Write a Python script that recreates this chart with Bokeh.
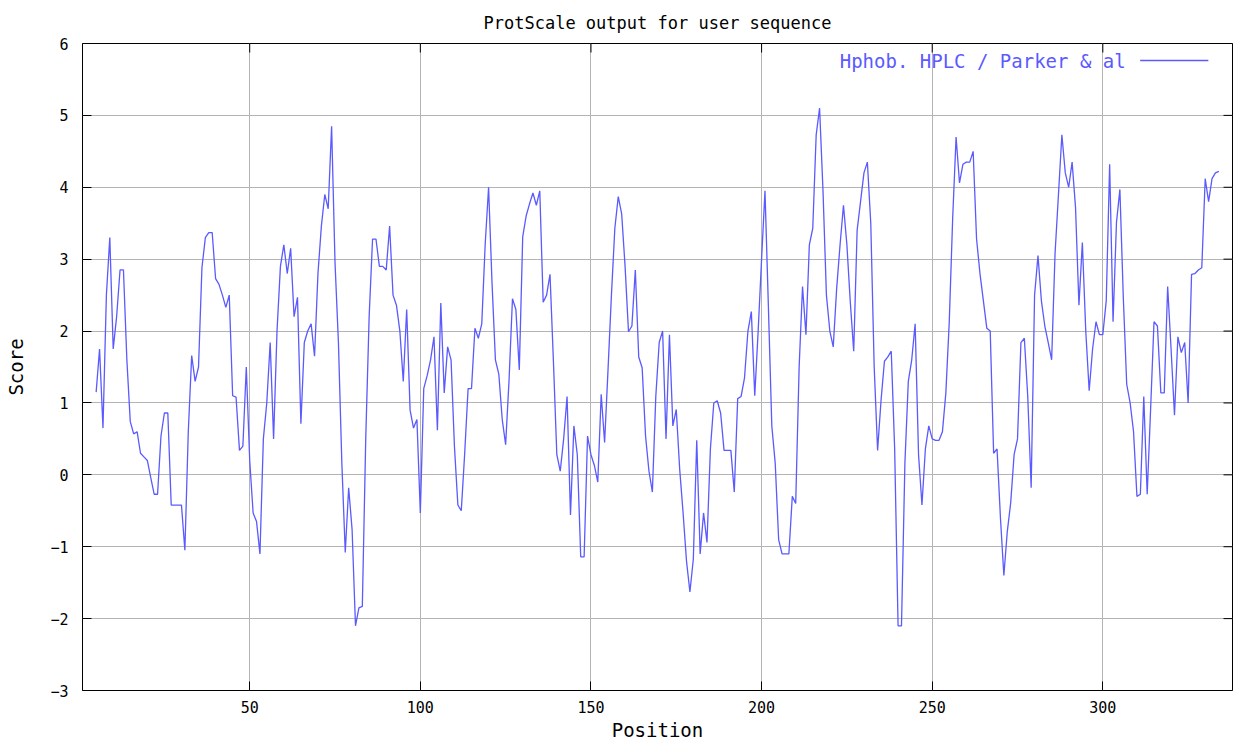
import math
from bokeh.plotting import figure
from bokeh.models import Range1d, FixedTicker, Label
from bokeh.embed import file_html
from bokeh.resources import INLINE

# ---------------- data ----------------
first_position = 5
scores = [
    # 5-30
    1.15, 1.75, 0.65, 2.5, 3.3, 1.75, 2.2, 2.85, 2.85, 1.6,
    0.74, 0.57, 0.6, 0.3, 0.25, 0.2, -0.04, -0.27, -0.27, 0.54,
    0.86, 0.86, -0.42, -0.42, -0.42, -0.42,
    # 31-56
    -1.05, 0.6, 1.66, 1.3, 1.5, 2.88, 3.3, 3.37, 3.37, 2.73,
    2.65, 2.5, 2.33, 2.5, 1.1, 1.08, 0.34, 0.4, 1.5, 0.2,
    -0.53, -0.65, -1.1, 0.5, 1.0, 1.84,
    # 57-84
    0.5, 2.0, 2.9, 3.2, 2.8, 3.15, 2.2, 2.47, 0.71, 1.84,
    2.0, 2.1, 1.65, 2.8, 3.46, 3.9, 3.7, 4.85, 2.95, 1.84,
    0.16, -1.08, -0.18, -0.76, -2.1, -1.85, -1.83, 0.5,
    # 85-112
    2.2, 3.28, 3.28, 2.9, 2.9, 2.85, 3.46, 2.5, 2.36, 2.0,
    1.3, 2.3, 0.9, 0.65, 0.77, -0.53, 1.2, 1.38, 1.6, 1.92,
    0.62, 2.39, 1.14, 1.78, 1.6, 0.39, -0.42, -0.5,
    # 113-141
    0.3, 1.2, 1.2, 2.04, 1.9, 2.1, 3.2, 4.0, 2.68, 1.6,
    1.4, 0.77, 0.42, 1.32, 2.45, 2.3, 1.46, 3.31, 3.6, 3.77,
    3.92, 3.75, 3.95, 2.4, 2.5, 2.79, 1.58, 0.28, 0.05,
    # 142-168
    0.5, 1.09, -0.56, 0.68, 0.28, -1.14, -1.14, 0.54, 0.28, 0.13,
    -0.1, 1.12, 0.45, 1.46, 2.5, 3.43, 3.87, 3.63, 2.9, 1.99,
    2.07, 2.85, 1.64, 1.49, 0.54, 0.05, -0.24,
    # 169-198
    1.09, 1.84, 2.0, 0.5, 1.95, 0.68, 0.91, 0.08, -0.53, -1.2,
    -1.63, -1.17, 0.48, -1.1, -0.53, -0.94, 0.36, 1.0, 1.03, 0.86,
    0.34, 0.34, 0.34, -0.24, 1.06, 1.09, 1.35, 2.0, 2.27, 1.1,
    # 199-225
    2.0, 3.0, 3.95, 2.33, 0.68, 0.16, -0.9, -1.1, -1.1, -1.1,
    -0.3, -0.4, 1.49, 2.62, 1.95, 3.2, 3.43, 4.73, 5.1, 3.95,
    2.5, 2.0, 1.78, 2.59, 3.2, 3.75, 3.2,
    # 226-253
    2.4, 1.72, 3.4, 3.8, 4.2, 4.35, 3.5, 1.5, 0.34, 1.03,
    1.58, 1.64, 1.72, 0.36, -2.1, -2.1, 0.16, 1.3, 1.6, 2.1,
    0.28, -0.42, 0.36, 0.68, 0.5, 0.48, 0.48, 0.6,
    # 254-282
    1.14, 2.13, 3.57, 4.7, 4.06, 4.32, 4.35, 4.35, 4.5, 3.28,
    2.8, 2.42, 2.04, 2.0, 0.3, 0.36, -0.6, -1.4, -0.79, -0.39,
    0.28, 0.5, 1.84, 1.9, 1.09, -0.18, 2.5, 3.05, 2.42,
    # 283-309
    2.07, 1.84, 1.6, 3.08, 3.9, 4.73, 4.2, 4.0, 4.35, 3.72,
    2.36, 3.23, 2.0, 1.17, 1.75, 2.13, 1.95, 1.95, 2.42, 4.32,
    2.13, 3.51, 3.97, 2.47, 1.26, 1.0, 0.6,
    # 310-334
    -0.3, -0.27, 1.09, -0.27, 0.91, 2.13, 2.07, 1.14, 1.14, 2.62,
    1.75, 0.83, 1.92, 1.7, 1.84, 1.0, 2.79, 2.8, 2.85, 2.88,
    4.12, 3.8, 4.12, 4.2, 4.22,
]
positions = list(range(first_position, first_position + len(scores)))

x_ticks = [50, 100, 150, 200, 250, 300]
y_ticks = [-3, -2, -1, 0, 1, 2, 3, 4, 5, 6]
title_text = "ProtScale output for user sequence"
series_name = "Hphob. HPLC / Parker & al"
x_label = "Position"
y_label = "Score"

# ---------------- style ----------------
MONO = "DejaVu Sans Mono"
LINE_COLOR = "#5a5aff"
GRID_COLOR = "#b4b4b4"
TICK_LEN = 9
FIG_H = 743
BORDER_TOP = 43
BORDER_BOTTOM = 53

p = figure(
    width=1237, height=FIG_H,
    x_range=Range1d(1, 338), y_range=Range1d(-3, 6),
    output_backend="svg", toolbar_location=None,
    min_border_left=82, min_border_right=5,
    min_border_top=BORDER_TOP, min_border_bottom=BORDER_BOTTOM,
    x_axis_label=x_label, y_axis_label=y_label,
)
p.background_fill_color = "white"
p.border_fill_color = "white"
p.outline_line_color = "black"
p.outline_line_width = 1

p.title.text = title_text
p.title.align = "center"
p.title.text_font = MONO
p.title.text_font_size = "17px"
p.title.text_font_style = "normal"
p.title.text_color = "black"
p.title.standoff = 21

for ax in (p.xaxis[0], p.yaxis[0]):
    ax.axis_line_color = None
    ax.major_tick_in = TICK_LEN
    ax.major_tick_out = 0
    ax.minor_tick_line_color = None
    ax.major_tick_line_color = "black"
    ax.major_label_text_font = MONO
    ax.major_label_text_font_size = "15px"
    ax.major_label_text_color = "black"
    ax.axis_label_text_font = MONO
    ax.axis_label_text_font_size = "19px"
    ax.axis_label_text_font_style = "normal"
    ax.axis_label_text_color = "black"

p.xaxis[0].ticker = FixedTicker(ticks=x_ticks)
p.yaxis[0].ticker = FixedTicker(ticks=y_ticks)
p.xaxis[0].major_label_standoff = 10
p.xaxis[0].axis_label_standoff = 3
p.yaxis[0].major_label_standoff = 14
p.yaxis[0].axis_label_standoff = 20

p.xgrid.ticker = FixedTicker(ticks=x_ticks)
p.ygrid.ticker = FixedTicker(ticks=y_ticks)
for g in (p.xgrid[0], p.ygrid[0]):
    g.grid_line_color = GRID_COLOR
    g.grid_line_width = 1

xr, yr = p.x_range, p.y_range
frame_h = FIG_H - BORDER_TOP - BORDER_BOTTOM
units_per_px = (yr.end - yr.start) / frame_h

# mirrored inward ticks on the right and top borders (dash markers clipped by the frame)
p.scatter([xr.end] * len(y_ticks), y_ticks, marker="dash", size=2 * TICK_LEN,
          line_color="black", line_width=1)
p.scatter(x_ticks, [yr.end] * len(x_ticks), marker="dash", size=2 * TICK_LEN,
          angle=math.pi / 2, line_color="black", line_width=1)

p.line(positions, scores, line_color=LINE_COLOR, line_width=1.3)

# gnuplot-style key: label text then line sample (top right)
span_x = xr.end - xr.start
key_y = yr.end - 17 * units_per_px
key_text_x = xr.start + 0.9071 * span_x
key_x0 = xr.start + 0.9197 * span_x
key_x1 = xr.start + 0.979 * span_x
p.add_layout(Label(x=key_text_x, y=key_y, text=series_name, text_align="right",
                   text_baseline="middle", text_font=MONO, text_font_size="19px",
                   text_color=LINE_COLOR))
p.line([key_x0, key_x1], [key_y, key_y], line_color=LINE_COLOR, line_width=1.3)

open("out.html", "w").write(file_html(p, INLINE))
